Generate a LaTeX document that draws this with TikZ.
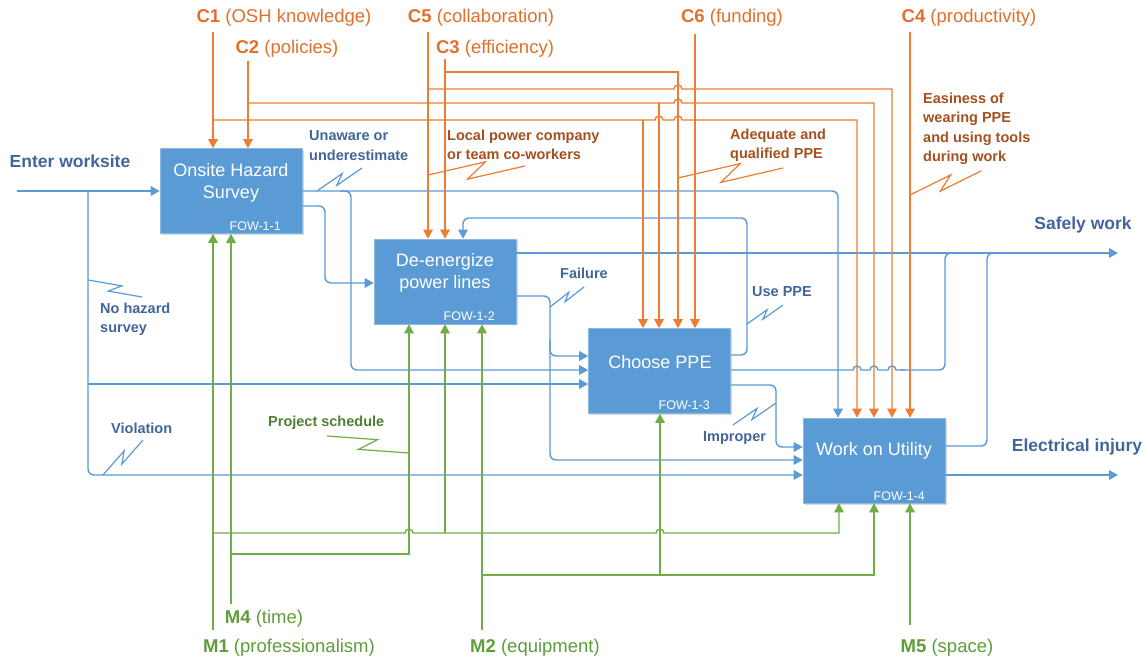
\documentclass[tikz,border=0pt]{standalone}
\usepackage{fontspec}
\setmainfont{Liberation Sans}
\usetikzlibrary{arrows.meta,calc,shadows}

\definecolor{boxblue}{HTML}{5B9BD5}
\definecolor{boxedge}{HTML}{8DB8E2}
\definecolor{flowblue}{HTML}{5B9BD5}
\definecolor{ctrlorange}{HTML}{ED7D31}
\definecolor{mechgreen}{HTML}{70AD47}
\definecolor{labelblue}{HTML}{42669A}
\definecolor{labelorange}{HTML}{E0702D}
\definecolor{notebrown}{HTML}{A4511F}
\definecolor{labelgreen}{HTML}{5E9E3A}
\definecolor{notegreen}{HTML}{4F7F30}

\begin{document}
\begin{tikzpicture}[x=1pt,y=-1pt,
  box/.style={fill=boxblue, draw=boxedge, line width=0.6pt, minimum width=142pt,
    minimum height=85pt, inner sep=0pt,
    drop shadow={shadow xshift=1.5pt, shadow yshift=-1.5pt, opacity=0.3}},
  boxtext/.style={text=white, font=\fontsize{18}{21.5}\selectfont, align=center, inner sep=0pt},
  fow/.style={text=white, font=\fontsize{12.5}{14}\selectfont, inner sep=0pt, anchor=east},
  clabel/.style={text=labelorange, font=\fontsize{18.5}{21}\selectfont, inner sep=0pt},
  mlabel/.style={text=labelgreen, font=\fontsize{18.5}{21}\selectfont, inner sep=0pt},
  iolabel/.style={text=labelblue, font=\bfseries\fontsize{17.5}{20}\selectfont, inner sep=0pt},
  note/.style={font=\bfseries\fontsize{14.5}{19.5}\selectfont, align=left, anchor=west, inner sep=0pt},
  bnote/.style={note, text=labelblue},
  onote/.style={note, text=notebrown},
  gnote/.style={note, text=notegreen},
  arr/.style={-{Triangle[length=9pt,width=9.5pt]}},
  flow/.style={draw=flowblue, line width=1.4pt, rounded corners=6pt},
  ctrl/.style={draw=ctrlorange, line width=1.4pt},
  mech/.style={draw=mechgreen, line width=1.4pt},
  squig/.style={to path={-- ($(\tikztostart)!0.6!(\tikztotarget)!0.2!90:(\tikztotarget)$)
      -- ($(\tikztostart)!0.4!(\tikztotarget)!0.133!-90:(\tikztotarget)$) -- (\tikztotarget)}},
  bsq/.style={draw=flowblue, line width=1.2pt, squig},
  osq/.style={draw=ctrlorange, line width=1.2pt, squig},
  gsq/.style={draw=mechgreen, line width=1.2pt, squig},
]
\fill[white] (0,0) rectangle (1146,660);
\useasboundingbox (0,0) rectangle (1146,660);

% ---------- activity boxes ----------
\node[box] (b1) at (231,191) {};
\node[box] (b2) at (445,281.5) {};
\node[box] (b3) at (659.5,371) {};
\node[box] (b4) at (874,460.5) {};

% ---------- boundary coordinates ----------
\coordinate (src) at (17,191);
\coordinate (safe) at (1118,253);
\coordinate (inj) at (1118,475);

% ---------- inputs / outputs (blue) ----------
\draw[flow,arr] (src) -- (b1.west);
\draw[flow,arr] (88,191) -- (88,475) -- (b4.west |- 0,475);
\draw[flow,arr] (88,384) -- (b3.west |- 0,384);
\draw[flow,arr] (b1.east) -- (838,191) -- (b4.north -| 838,0);
\draw[flow,arr] (340,191) -- (351,191) -- (351,370) -- (b3.west |- 0,370);
\draw[flow,arr] (b1.east |- 0,206) -- (325,206) -- (325,283) -- (b2.west |- 0,283);
\draw[flow,arr] (b2.east |- 0,253) -- (safe);
\draw[flow,arr] (b2.east |- 0,296) -- (550,296) -- (550,460) -- (b4.west |- 0,460);
\draw[flow,arr] (550,340) -- (550,356) -- (b3.west |- 0,356);
\draw[flow,arr] (b3.east |- 0,355) -- (747,355) -- (747,218) -- (463,218) -- (b2.north -| 463,0);
\draw[flow,sharp corners] (b3.east |- 0,370) -- (853,370) arc[start angle=180,end angle=0,radius=4pt]
  -- (870,370) arc[start angle=180,end angle=0,radius=4pt]
  -- (888,370) arc[start angle=180,end angle=0,radius=4pt] -- (905,370);
\draw[flow] (900,370) -- (945,370) -- (945,253) -- (965,253);
\draw[flow,arr] (b3.east |- 0,385) -- (776,385) -- (776,447) -- (b4.west |- 0,447);
\draw[flow] (b4.east |- 0,446) -- (987,446) -- (987,253) -- (1005,253);
\draw[flow,arr] (b4.east |- 0,475) -- (inj);

% ---------- controls (orange) ----------
\draw[ctrl,arr] (213,32) -- (b1.north -| 213,0);
\draw[ctrl,arr] (248,61) -- (b1.north -| 248,0);
\draw[ctrl,arr] (428,32) -- (b2.north -| 428,0);
\draw[ctrl,arr] (445,59) -- (b2.north -| 445,0);
\draw[ctrl,arr] (695,34) -- (b3.north -| 695,0);
\draw[ctrl,arr] (910,32) -- (b4.north -| 910,0);
\draw[ctrl,arr] (213,120) -- (655,120) arc[start angle=180,end angle=0,radius=4pt]
  -- (674,120) arc[start angle=180,end angle=0,radius=4pt] -- (857,120) -- (b4.north -| 857,0);
\draw[ctrl,arr] (643,120) -- (b3.north -| 643,0);
\draw[ctrl,arr] (248,103) -- (674,103) arc[start angle=180,end angle=0,radius=4pt]
  -- (874,103) -- (b4.north -| 874,0);
\draw[ctrl,arr] (659,103) -- (b3.north -| 659,0);
\draw[ctrl,arr] (428,89) -- (674,89) arc[start angle=180,end angle=0,radius=4pt]
  -- (892,89) -- (b4.north -| 892,0);
\draw[ctrl,arr] (445,72) -- (678,72) -- (b3.north -| 678,0);

% ---------- mechanisms (green) ----------
\draw[mech,arr] (213,630) -- (b1.south -| 213,0);
\draw[mech,arr] (231,604) -- (b1.south -| 231,0);
\draw[mech,arr] (482,630) -- (b2.south -| 482,0);
\draw[mech,arr] (910,625) -- (b4.south -| 910,0);
\draw[mech,arr] (213,533) -- (405,533) arc[start angle=180,end angle=0,radius=4pt]
  -- (656,533) arc[start angle=180,end angle=0,radius=4pt] -- (839,533) -- (b4.south -| 839,0);
\draw[mech,arr] (445,533) -- (b2.south -| 445,0);
\draw[mech,arr] (231,554) -- (409,554) -- (b2.south -| 409,0);
\draw[mech,arr] (482,575) -- (874,575) -- (b4.south -| 874,0);
\draw[mech,arr] (660,575) -- (b3.south -| 660,0);

% ---------- box texts ----------
\node[boxtext] (t1) at (231,183) {Onsite Hazard\\Survey};
\node[boxtext] (t2) at (445,273) {De-energize\\power lines};
\node[boxtext] (t3) at (660,362) {Choose PPE};
\node[boxtext] (t4) at (874,451) {Work on Utility};
\node[fow] (f1) at (281,226) {FOW-1-1};
\node[fow] (f2) at (495,316) {FOW-1-2};
\node[fow] (f3) at (710,405) {FOW-1-3};
\node[fow] (f4) at (925,496) {FOW-1-4};

% ---------- control / mechanism labels ----------
\node[clabel] (c1) at (284,18) {\textbf{C1} (OSH knowledge)};
\node[clabel] (c2) at (287,49) {\textbf{C2} (policies)};
\node[clabel] (c5) at (481,18) {\textbf{C5} (collaboration)};
\node[clabel] (c3) at (495,49) {\textbf{C3} (efficiency)};
\node[clabel] (c6) at (732,18) {\textbf{C6} (funding)};
\node[clabel] (c4) at (969,18) {\textbf{C4} (productivity)};
\node[mlabel] (m4) at (264,619) {\textbf{M4} (time)};
\node[mlabel] (m1) at (289,648) {\textbf{M1} (professionalism)};
\node[mlabel] (m2) at (535,648) {\textbf{M2} (equipment)};
\node[mlabel] (m5) at (947,648) {\textbf{M5} (space)};

% ---------- input / output labels ----------
\node[iolabel] (lin) at (70,161) {Enter worksite};
\node[iolabel] (lsafe) at (1083,225) {Safely work};
\node[iolabel] (linj) at (1077,447) {Electrical injury};

% ---------- annotations ----------
\node[bnote] (n1) at (309,145.5) {Unaware or\\underestimate};
\node[onote] (n2) at (447,145) {Local power company\\or team co-workers};
\node[onote] (n3) at (730,145.5) {Adequate and\\qualified PPE};
\node[onote] (n4) at (923,129) {Easiness of\\wearing PPE\\and using tools\\during work};
\node[bnote] (n5) at (560,273) {Failure};
\node[bnote] (n6) at (752,292) {Use PPE};
\node[bnote] (n7) at (703,438) {Improper};
\node[bnote] (n8) at (100,319.5) {No hazard\\survey};
\node[bnote] (n9) at (111,428) {Violation};
\node[gnote] (n10) at (268,423) {Project schedule};

% squiggle leaders: attachment point on the line, free end by the note
\coordinate (s1a) at (317,191);  \coordinate (s1b) at (362,168);
\coordinate (s2a) at (428,175);  \coordinate (s2b) at (525,166);
\coordinate (s3a) at (678,178);  \coordinate (s3b) at (783,168);
\coordinate (s4a) at (910,195);  \coordinate (s4b) at (981,171);
\coordinate (s5a) at (550,307);  \coordinate (s5b) at (584,287);
\coordinate (s6a) at (747,324);  \coordinate (s6b) at (783,305);
\coordinate (s7a) at (776,403);  \coordinate (s7b) at (733,425);
\coordinate (s8a) at (88,280);   \coordinate (s8b) at (142,297);
\coordinate (s9a) at (103,475);  \coordinate (s9b) at (143,440);
\coordinate (s10a) at (409,453); \coordinate (s10b) at (327,436);

\draw[bsq] (s1a) to (s1b);
\draw[osq] (s2a) to (s2b);
\draw[osq] (s3a) to (s3b);
\draw[osq] (s4a) to (s4b);
\draw[bsq] (s5a) to (s5b);
\draw[bsq] (s6a) to (s6b);
\draw[bsq] (s7a) to (s7b);
\draw[bsq] (s8a) to (s8b);
\draw[bsq] (s9a) to (s9b);
\draw[gsq] (s10a) to (s10b);
\end{tikzpicture}
\end{document}
